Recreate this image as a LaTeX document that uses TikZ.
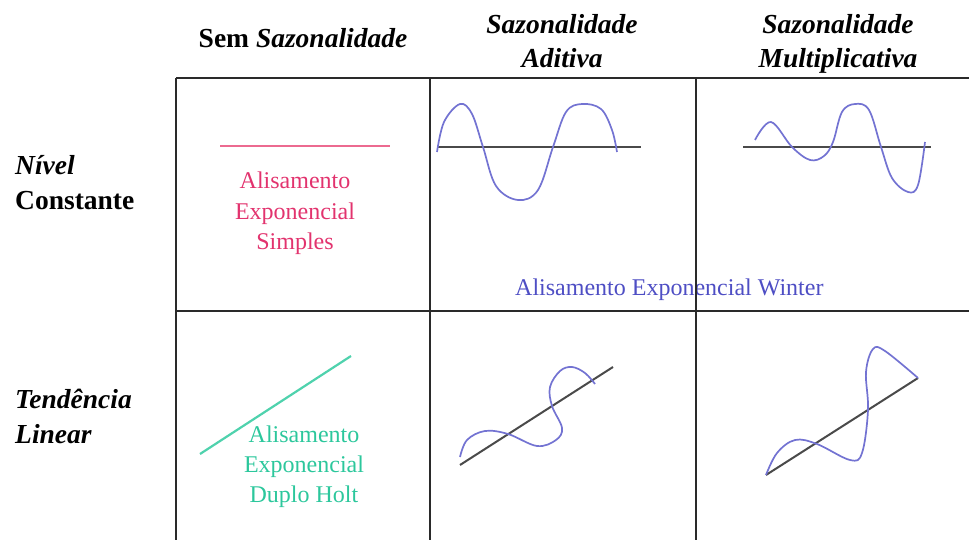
\documentclass[tikz,border=0pt]{standalone}
\usepackage{fontspec}
\setmainfont{Liberation Serif}
\definecolor{gridc}{HTML}{2A2A2A}
\definecolor{axisc}{HTML}{4A4A4A}
\definecolor{wavec}{HTML}{7373D2}
\definecolor{pinkt}{HTML}{E2336E}
\definecolor{pinkl}{HTML}{EC6A90}
\definecolor{greent}{HTML}{2CC79C}
\definecolor{greenl}{HTML}{4FD2AD}
\definecolor{bluet}{HTML}{4E4EC4}
\begin{document}
\begin{tikzpicture}[x=1pt,y=-1pt,
  grid/.style={draw=gridc,line width=1.5pt},
  axisline/.style={draw=axisc,line width=2pt},
  wave/.style={draw=wavec,line width=1.7pt,smooth,tension=0.6},
  hdr/.style={font=\fontsize{27.5}{34}\selectfont\bfseries,inner sep=0pt,anchor=base},
  ctext/.style={font=\fontsize{24}{30}\selectfont,inner sep=0pt,align=center,anchor=base}]
\useasboundingbox (0,0) rectangle (969,540);
% grid
\draw[grid] (176,78) -- (969,78);
\draw[grid] (176,311) -- (969,311);
\draw[grid] (176,78) -- (176,540);
\draw[grid] (430,78) -- (430,540);
% column headers
\node[hdr] (h1) at (303,48) {Sem \itshape Sazonalidade};
\node[hdr] (h2a) at (562,34) {\itshape Sazonalidade};
\node[hdr] (h2b) at (562,68) {\itshape Aditiva};
\node[hdr] (h3a) at (838,34) {\itshape Sazonalidade};
\node[hdr] (h3b) at (838,68) {\itshape Multiplicativa};
% row headers
\node[hdr,anchor=base west] (r1a) at (15,175) {\itshape Nível};
\node[hdr,anchor=base west] (r1b) at (15,210) {Constante};
\node[hdr,anchor=base west] (r2a) at (15,408) {\itshape Tendência};
\node[hdr,anchor=base west] (r2b) at (15,443) {\itshape Linear};
% simple exponential smoothing
\draw[draw=pinkl,line width=2.5pt] (220,146) -- (390,146);
\node[ctext,text=pinkt] (s1) at (295,189) {Alisamento};
\node[ctext,text=pinkt] (s2) at (295,219) {Exponencial};
\node[ctext,text=pinkt] (s3) at (295,249) {Simples};
% Holt
\draw[draw=greenl,line width=2.2pt] (200,454) -- (351,356);
\node[ctext,text=greent] (g1) at (304,442) {Alisamento};
\node[ctext,text=greent] (g2) at (304,472) {Exponencial};
\node[ctext,text=greent] (g3) at (304,502) {Duplo Holt};
% Winter text (line drawn over it)
\node[ctext,text=bluet,anchor=base west] (w) at (515,295) {Alisamento Exponencial Winter};
\draw[grid] (696,78) -- (696,540);
% additive, constant level
\draw[axisline] (437,147) -- (641,147);
\draw[wave] plot coordinates {(437,152) (444,122) (460,104) (472,114) (483,147) (496,186) (518,200) (538,190) (553,147) (566,112) (582,104) (601,109) (612,130) (617,152)};
% multiplicative, constant level
\draw[axisline] (743,147) -- (931,147);
\draw[wave] plot coordinates {(755,140) (771,122) (792,147) (810,160) (824,156) (833,142) (842,112) (855,104) (869,110) (881,147) (892,178) (908,192) (918,185) (925,142)};
% additive, trend
\draw[axisline] (460,465) -- (613,367);
\draw[wave] plot coordinates {(460,457) (467,440) (485,431) (508,434) (537,446) (556,440) (562,428) (552,406) (550,387) (560,371) (572,367) (585,373) (595,384)};
% multiplicative, trend
\draw[axisline] (766,475) -- (918,378);
\draw[wave] plot coordinates {(766,475) (777,453) (795,440) (817,444) (850,460) (862,453) (868,410) (866,372) (873,349) (885,351) (918,378)};
\end{tikzpicture}
\end{document}
